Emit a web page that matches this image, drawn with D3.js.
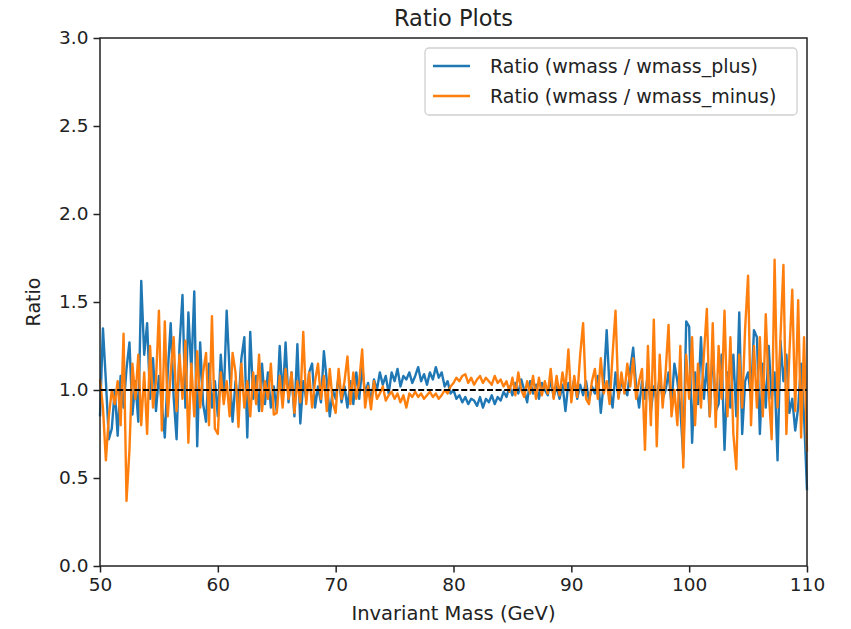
<!DOCTYPE html>
<html>
<head>
<meta charset="utf-8">
<script src="https://cdn.jsdelivr.net/npm/d3@7"></script>
<style>
  body { margin: 0; background: #fff; }
  text { font-family: "DejaVu Sans", sans-serif; fill: #222; }
</style>
</head>
<body>
<div class="chart"></div>
<script>
var svgWidth = 851;
var svgHeight = 629;
var margin = {top: 38, right: 44, bottom: 63, left: 100};
var width = svgWidth - margin.left - margin.right;
var height = svgHeight - margin.top - margin.bottom;

// bins of 0.25 GeV from 50 to 110
var massStart = 50, massStep = 0.25;
var xTicks = [50, 60, 70, 80, 90, 100, 110];
var yTicks = [0.0, 0.5, 1.0, 1.5, 2.0, 2.5, 3.0];
var refLevel = 1.0;
var seriesNames = ["Ratio (wmass / wmass_plus)", "Ratio (wmass / wmass_minus)"];
var seriesColors = ["#1f77b4", "#ff7f0e"];

var ratioPlus = [
  0.85, 1.35, 1.05, 0.72,  0.78, 1.00, 0.74, 1.08,  0.90, 1.12, 1.27, 0.86,
  1.05, 0.82, 1.62, 1.20,  1.38, 0.95, 1.18, 0.88,  1.08, 0.92, 0.73, 1.10,
  1.38, 0.96, 0.72, 1.25,  1.54, 0.90, 1.44, 1.10,  1.56, 0.68, 1.27, 0.92,
  0.82, 1.15, 0.90, 1.05,  0.85, 1.20, 0.95, 1.45,  1.10, 0.82, 1.05, 0.92,
  1.18, 1.30, 0.73, 1.33,  0.95, 1.08, 0.88, 1.15,  0.92, 1.10, 0.90, 1.02,
  0.88, 1.25, 0.95, 1.27,  0.93, 1.10, 0.85, 1.26,  0.81, 1.05, 0.95, 1.10,
  1.15, 0.90, 1.02, 0.93,  1.22, 1.05, 0.85, 1.00,  0.95, 1.08, 0.93, 1.02,
  0.90, 1.05, 0.92, 1.10,  0.95, 1.13, 0.98, 1.04,  0.93, 1.06, 1.00, 1.10,
  1.03, 1.08, 0.98, 1.10,  1.05, 1.12, 1.02, 1.08,  1.06, 1.10, 1.04, 1.08,
  1.13, 1.05, 1.09, 1.03,  1.10, 1.06, 1.13, 1.07,  1.10, 1.02, 1.05, 0.98,
  1.00, 0.95, 0.97, 0.93,  0.96, 0.92, 0.95, 0.94,  0.91, 0.96, 0.90, 0.95,
  0.93, 0.97, 0.92, 0.96,  0.94, 0.99, 0.96, 1.02,  0.97, 1.04, 0.98, 1.06,
  1.00, 0.93, 1.05, 0.98,  1.03, 0.95, 1.04, 1.00,  0.97, 1.06, 0.96, 1.02,
  0.95, 1.03, 0.88, 1.04,  0.98, 1.06, 0.95, 1.03,  0.97, 1.05, 0.94, 1.02,
  0.98, 1.08, 0.87, 1.04,  1.34, 1.00, 0.90, 1.10,  0.96, 1.05, 1.00, 0.97,
  1.12, 1.24, 1.02, 0.90,  1.05, 0.95, 1.10, 0.88,  1.02, 0.93, 1.08, 0.95,
  1.00, 1.10, 0.92, 1.15,  1.05, 0.90, 0.62, 1.39,  1.36, 0.70, 1.10, 0.92,
  1.30, 0.95, 1.15, 0.85,  1.25, 0.88, 0.92, 1.20,  0.66, 1.10, 0.90, 1.20,
  0.85, 1.44, 0.75, 1.05,  1.10, 0.95, 1.34, 1.30,  0.75, 1.15, 0.90, 1.25,
  0.95, 1.10, 0.60, 1.28,  1.05, 1.20, 0.87, 0.95,  0.77, 0.90, 1.15, 0.85,
  0.43
];

var ratioMinus = [
  1.06, 0.90, 0.60, 0.85,  1.00, 0.92, 1.05, 0.80,  1.32, 0.37, 0.66, 1.15,
  0.95, 1.20, 0.80, 1.10,  0.75, 1.25, 0.90, 1.05,  1.45, 0.77, 1.39, 0.85,
  1.10, 1.30, 0.88, 1.20,  0.95, 1.28, 0.70, 1.15,  0.85, 1.22, 0.90, 1.10,
  1.21, 0.80, 1.42, 0.78,  0.75, 1.10, 0.92, 1.05,  0.85, 1.21, 1.10, 0.79,
  1.15, 0.90, 1.05, 0.85,  1.10, 0.92, 1.20, 0.88,  1.05, 0.95, 1.15, 0.86,
  0.87, 1.08, 0.90, 1.12,  0.95, 1.10, 0.87, 1.05,  0.93, 1.33, 0.92, 1.10,
  0.90, 1.05, 1.15, 0.95,  1.08, 0.88, 1.12, 0.93,  0.87, 1.12, 0.95, 1.05,
  1.19, 0.92, 1.10, 0.95,  1.05, 1.23, 0.90, 1.02,  0.89, 1.05, 0.95, 0.98,
  1.02, 0.94, 0.97, 0.99,  0.95, 0.98, 0.93, 0.97,  0.90, 0.98, 0.96, 0.99,
  0.96, 0.98, 0.95, 0.97,  0.99, 0.96, 0.98, 0.95,  0.97, 1.00, 0.98, 1.02,
  1.04, 1.07, 1.05, 1.08,  1.09, 1.04, 1.07, 1.03,  1.06, 1.08, 1.04, 1.07,
  1.05, 1.03, 1.08, 1.04,  1.06, 1.02, 1.05, 0.99,  1.07, 0.97, 1.10, 1.00,
  0.96, 1.05, 0.98, 1.08,  0.95, 1.07, 0.97, 1.05,  0.98, 1.12, 0.95, 1.08,
  0.97, 1.10, 1.00, 1.23,  0.93, 1.08, 0.96, 1.20,  1.38, 0.95, 0.92, 1.05,
  1.12, 0.95, 1.18, 0.98,  1.05, 0.92, 1.20, 1.45,  0.95, 1.10, 0.98, 1.15,
  1.02, 1.18, 0.95, 1.05,  1.12, 0.66, 1.25, 0.80,  1.40, 0.68, 1.20, 0.90,
  1.10, 1.37, 0.85, 1.00,  0.80, 1.25, 0.56, 1.20,  0.95, 1.30, 0.80, 1.15,
  0.90, 1.20, 1.46, 0.85,  1.38, 0.79, 1.25, 0.95,  1.45, 0.85, 1.30, 0.75,
  0.55, 1.20, 0.90, 1.35,  1.65, 0.80, 1.25, 0.90,  1.30, 0.85, 1.43, 1.00,
  0.72, 1.74, 0.90, 1.30,  1.71, 0.75, 1.20, 1.57,  0.88, 1.51, 0.73, 1.30,
  0.65
];

var series = [ratioPlus, ratioMinus];

var svg = d3.select(".chart")
  .append("svg")
  .attr("width", svgWidth)
  .attr("height", svgHeight);

var chartGroup = svg.append("g")
  .attr("transform", `translate(${margin.left},${margin.top})`);

var xLinearScale = d3.scaleLinear()
  .domain([50, 110])
  .range([0, width]);

var yLinearScale = d3.scaleLinear()
  .domain([0, 3])
  .range([height, 0]);

// lines
var line = d3.line()
  .x((d, i) => xLinearScale(massStart + i * massStep))
  .y(d => yLinearScale(d));

var plotArea = chartGroup.append("g");

series.forEach(function(s, k) {
  plotArea.append("path")
    .datum(s)
    .attr("d", line)
    .attr("fill", "none")
    .attr("stroke", seriesColors[k])
    .attr("stroke-width", 2.4)
    .attr("stroke-linejoin", "round");
});

// reference line at ratio = 1
plotArea.append("line")
  .attr("x1", xLinearScale(50))
  .attr("x2", xLinearScale(110))
  .attr("y1", yLinearScale(refLevel))
  .attr("y2", yLinearScale(refLevel))
  .attr("stroke", "#000")
  .attr("stroke-width", 2)
  .attr("stroke-dasharray", "6,2.6");

// axes
var bottomAxis = d3.axisBottom(xLinearScale).tickValues(xTicks).tickSize(6.5).tickPadding(5).tickFormat(d3.format("d"));
var leftAxis = d3.axisLeft(yLinearScale).tickValues(yTicks).tickSize(6.5).tickPadding(5).tickFormat(d3.format(".1f"));

var xAxisG = chartGroup.append("g")
  .attr("transform", `translate(0, ${height})`)
  .call(bottomAxis);
var yAxisG = chartGroup.append("g")
  .call(leftAxis);

[xAxisG, yAxisG].forEach(function(g) {
  g.select(".domain").remove();
  g.selectAll(".tick line").attr("stroke", "#222").attr("stroke-width", 1.5);
  g.selectAll(".tick text").style("font-size", "18.5px").style("font-family", "DejaVu Sans").attr("fill", "#222");
});

// frame
chartGroup.append("rect")
  .attr("width", width)
  .attr("height", height)
  .attr("fill", "none")
  .attr("stroke", "#222")
  .attr("stroke-width", 1.5);

// legend
var legend = chartGroup.append("g")
  .attr("transform", `translate(${425 - margin.left},${48 - margin.top})`);

legend.append("rect")
  .attr("width", 372)
  .attr("height", 67)
  .attr("rx", 4)
  .attr("fill", "#fff")
  .attr("fill-opacity", 0.8)
  .attr("stroke", "#d0d0d0")
  .attr("stroke-width", 1.3);

seriesNames.forEach(function(name, k) {
  var yy = 18 + k * 30;
  legend.append("line")
    .attr("x1", 8).attr("x2", 45)
    .attr("y1", yy).attr("y2", yy)
    .attr("stroke", seriesColors[k])
    .attr("stroke-width", 2.4);
  legend.append("text")
    .attr("x", 65)
    .attr("y", yy)
    .attr("dy", "0.35em")
    .style("font-size", "19px")
    .text(name);
});

// title and axis labels
svg.append("text")
  .attr("x", margin.left + width / 2)
  .attr("y", 26)
  .attr("text-anchor", "middle")
  .style("font-size", "22.5px")
  .text("Ratio Plots");

svg.append("text")
  .attr("x", margin.left + width / 2)
  .attr("y", 620)
  .attr("text-anchor", "middle")
  .style("font-size", "19.5px")
  .text("Invariant Mass (GeV)");

svg.append("text")
  .attr("transform", `translate(40, ${margin.top + height / 2}) rotate(-90)`)
  .attr("text-anchor", "middle")
  .style("font-size", "19px")
  .text("Ratio");
</script>
</body>
</html>
